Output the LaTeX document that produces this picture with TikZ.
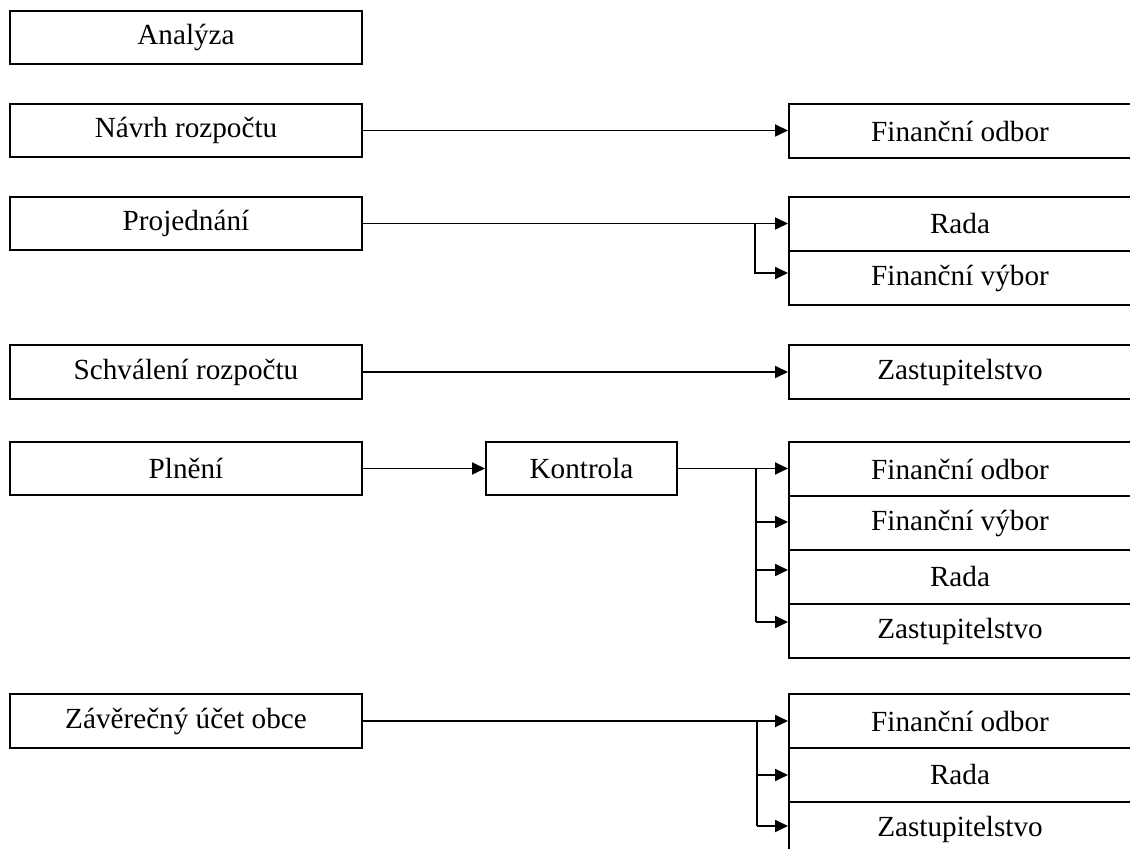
\documentclass[tikz,border=0pt]{standalone}
\usepackage{fontspec}
\setmainfont{Liberation Serif}
\usetikzlibrary{arrows.meta}
\begin{document}
\begin{tikzpicture}[x=0.5pt,y=-0.5pt,
  box/.style={draw, line width=1pt, inner sep=0pt, minimum height=26.5pt,
    font=\fontsize{14.6pt}{16pt}\selectfont},
  lbox/.style={box, minimum width=176pt},
  rbox/.style={box, minimum width=171pt, minimum height=27pt},
  arr/.style={line width=0.9pt, -{Triangle[length=6.5pt,width=6pt]}},
  ln/.style={line width=0.9pt}]
\useasboundingbox (0,0) rectangle (1130,849);
% left column
\node[lbox] (analyza) at (186,37.5) {Analýza};
\node[lbox] (navrh) at (186,130.5) {Návrh rozpočtu};
\node[lbox] (proj) at (186,223.5) {Projednání};
\node[lbox, minimum height=27pt] (schv) at (186,372) {Schválení rozpočtu};
\node[lbox] (plneni) at (186,468.5) {Plnění};
\node[lbox, minimum height=27pt] (zav) at (186,721) {Závěrečný účet obce};
\node[box, minimum width=95.5pt] (kontrola) at (581.5,468.5) {Kontrola};
% right column
\node[rbox] (fo1) at (960,131) {Finanční odbor};
\node[rbox] (rada1) at (960,224) {Rada};
\node[rbox] (fv1) at (960,278) {Finanční výbor};
\node[rbox] (zast1) at (960,372) {Zastupitelstvo};
\node[rbox] (fo2) at (960,469) {Finanční odbor};
\node[rbox] (fv2) at (960,523) {Finanční výbor};
\node[rbox] (rada2) at (960,577) {Rada};
\node[rbox] (zast2) at (960,631) {Zastupitelstvo};
\node[rbox] (fo3) at (960,721) {Finanční odbor};
\node[rbox] (rada3) at (960,775) {Rada};
\node[rbox] (zast3) at (960,829) {Zastupitelstvo};
% branch points
\coordinate (b1) at (755,224);
\coordinate (b2) at (756,468);
\coordinate (b3) at (757,721);
% connectors
\draw[arr] (navrh.east) -- (navrh.east -| fo1.west);
\draw[arr] (proj.east) -- (proj.east -| rada1.west);
\draw[arr] (b1) |- ([yshift=2.5pt]fv1.west);
\draw[arr] (schv.east) -- (zast1.west);
\draw[arr] (plneni.east) -- (kontrola.west);
\draw[arr] (kontrola.east) -- (kontrola.east -| fo2.west);
\draw[ln] (b2) -- ([yshift=4.5pt]zast2.west -| b2);
\draw[arr] ([yshift=0.5pt]fv2.west -| b2) -- ([yshift=0.5pt]fv2.west);
\draw[arr] ([yshift=3.5pt]rada2.west -| b2) -- ([yshift=3.5pt]rada2.west);
\draw[arr] ([yshift=4.5pt]zast2.west -| b2) -- ([yshift=4.5pt]zast2.west);
\draw[arr] (zav.east) -- (zav.east -| fo3.west);
\draw[ln] (b3) -- ([yshift=1.5pt]zast3.west -| b3);
\draw[arr] (rada3.west -| b3) -- (rada3.west);
\draw[arr] ([yshift=1.5pt]zast3.west -| b3) -- ([yshift=1.5pt]zast3.west);
\end{tikzpicture}
\end{document}
